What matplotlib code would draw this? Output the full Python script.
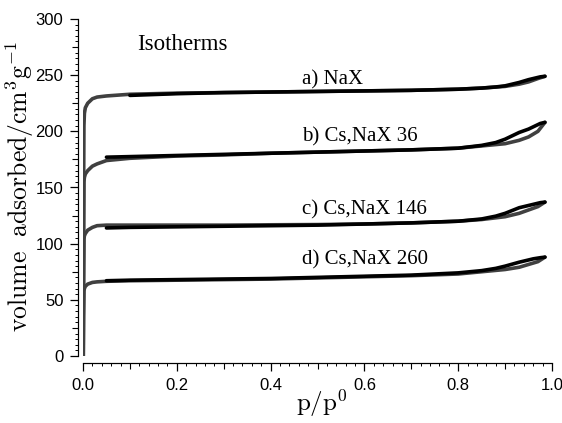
import numpy as np
import matplotlib
matplotlib.use("Agg")
import matplotlib.pyplot as plt
from matplotlib.ticker import MultipleLocator, FixedLocator, NullFormatter

# adsorption branches (relative pressure p/p0, volume cm3/g)
p_ads = [0.0005, 0.001, 0.002, 0.003, 0.005, 0.01, 0.02, 0.03, 0.05, 0.1, 0.2, 0.3,
         0.4, 0.5, 0.6, 0.7, 0.8, 0.85, 0.9, 0.93, 0.95, 0.97, 0.985]
a_ads = [0, 120, 205, 216, 221, 225, 229, 230.5, 231.5, 233, 234, 234.5, 235, 235.5,
         236, 236.5, 237.5, 238.5, 240, 242, 244, 247, 249]
b_ads = [0, 80, 155, 159, 162, 165, 169, 171, 174, 176, 178, 179, 180.5, 181.5,
         182.5, 183.5, 185, 187, 189, 192, 195, 200, 208]
c_ads = [0, 60, 104, 107, 109, 112, 114.5, 116, 116.5, 116.5, 116.5, 116.5, 116.8, 117,
         117.5, 118.5, 120, 121.5, 124, 127, 130, 133, 137]
d_ads = [0, 35, 58, 60, 62, 64, 65.5, 66, 66.5, 67, 67.5, 68, 68.5, 69.5, 70.5, 71.5,
         73, 75, 77, 79, 81.5, 84, 88]

# desorption branches
p_des = [0.985, 0.975, 0.96, 0.95, 0.93, 0.9, 0.88, 0.85, 0.8, 0.7, 0.6, 0.5,
         0.4, 0.3, 0.2, 0.1, 0.05]
a_des = [249, 248.5, 247, 246, 243.5, 240.5, 239.5, 238.5, 237.5, 236.5, 236, 235.5,
         235, 234.5, 233.5, 232, 232]
b_des = [208, 207, 204, 202, 199, 193, 190, 187.5, 185, 183.5, 182.5, 181.5,
         180.5, 179.5, 178.5, 177.5, 177]
c_des = [137, 136.5, 135, 134, 132, 127, 124.5, 122, 120, 118.5, 117.5, 116.5,
         116, 115.5, 115, 114.5, 114]
d_des = [88, 87.5, 86.5, 85.5, 83.5, 80, 78, 76, 74, 72, 71, 70, 69, 68.5, 68, 67.5, 67]

labels = ['a) NaX', 'b) Cs,NaX 36', 'c) Cs,NaX 146', 'd) Cs,NaX 260']
label_y = [245.5, 195, 130, 85.5]
# desorption of a) only measured down to p/p0 = 0.1
des_start = [0.1, 0.05, 0.05, 0.05]

plt.rcParams['mathtext.fontset'] = 'cm'

fig = plt.figure(figsize=(5.62, 4.23), dpi=100)
ax = fig.add_axes([83/562, 1-356/423, 469/562, 337/423])

for ads, des, start in zip([a_ads, b_ads, c_ads, d_ads], [a_des, b_des, c_des, d_des], des_start):
    ax.plot(p_ads, ads, color='0.25', lw=2.6, solid_capstyle='round')
    pd = np.array(p_des)
    dd = np.array(des)
    keep = pd >= start
    ax.plot(pd[keep], dd[keep], color='black', lw=2.6, solid_capstyle='round')

for lab, ly in zip(labels, label_y):
    ax.text(0.467, ly, lab, family='Liberation Serif', fontsize=15, ha='left', va='center')
ax.text(0.213, 277, 'Isotherms', family='Liberation Serif', fontsize=16.5, ha='center', va='center')

ax.set_xlim(0, 1)
ax.set_ylim(0, 300)
for s in ['top', 'right']:
    ax.spines[s].set_visible(False)
ax.spines['left'].set_position(('axes', -5/469))
ax.spines['bottom'].set_position(('axes', -7/337))

ax.xaxis.set_major_locator(MultipleLocator(0.2))
ax.xaxis.set_minor_locator(MultipleLocator(0.02))
ax.yaxis.set_major_locator(MultipleLocator(50))
ax.yaxis.set_minor_locator(MultipleLocator(5))
ax.tick_params(which='major', length=5.5, width=0.9, labelsize=12, pad=5)
ax.tick_params(which='minor', length=2.5, width=0.7)
for t in ax.get_xticklabels() + ax.get_yticklabels():
    t.set_family('Liberation Sans')
ax.xaxis.set_major_formatter(matplotlib.ticker.FormatStrFormatter('%.1f'))

# medium ticks at 0.1 and 25
secx = ax.secondary_xaxis(-7/337)
secx.xaxis.set_major_locator(FixedLocator([0.1, 0.3, 0.5, 0.7, 0.9]))
secx.xaxis.set_major_formatter(NullFormatter())
secx.tick_params(length=4, width=0.8)
secy = ax.secondary_yaxis(-5/469)
secy.yaxis.set_major_locator(FixedLocator([25, 75, 125, 175, 225, 275]))
secy.yaxis.set_major_formatter(NullFormatter())
secy.tick_params(length=4, width=0.8)

fig.text(322/562, 1-403/423, r'$\mathrm{p/p^0}$', fontsize=18,
         ha='center', va='center')
fig.text(20/562, 1-187/423, r'$\mathrm{volume\ \ adsorbed/cm^3g^{-1}}$', rotation=90,
         fontsize=18.5, ha='center', va='center')

fig.savefig('out.png', dpi=100)
